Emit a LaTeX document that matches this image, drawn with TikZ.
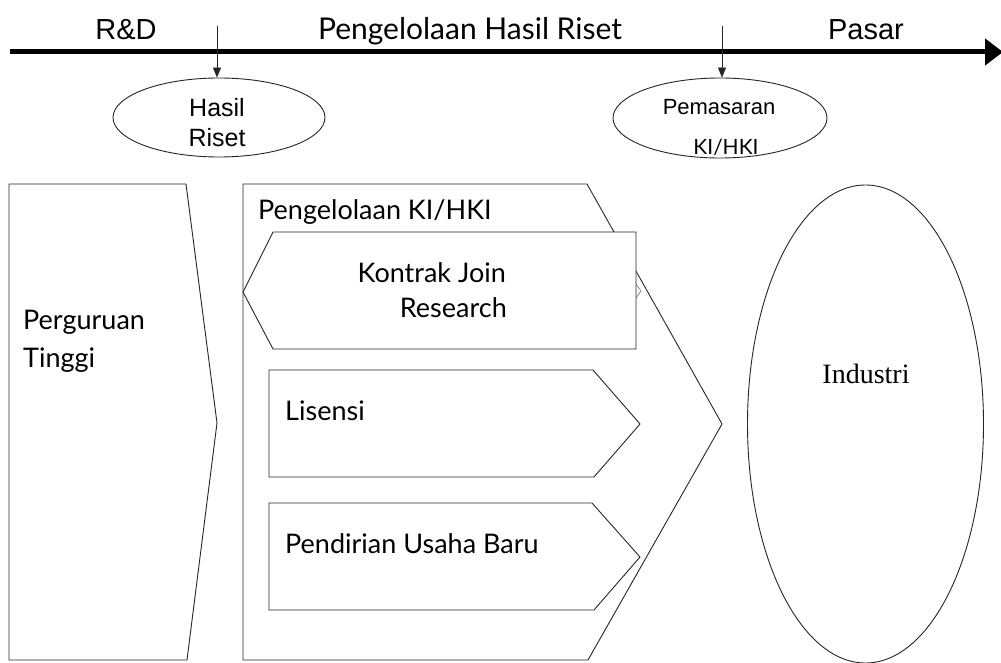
\documentclass[tikz,border=0pt]{standalone}
\usepackage{fontspec}
\setmainfont{Lato}
\newfontfamily\arialf{Liberation Sans}
\newfontfamily\timesf{Liberation Serif}
\usetikzlibrary{arrows.meta,shapes.geometric}
\tikzset{
  shp/.style={draw=black!85, line width=0.9pt, fill=white, line join=miter},
  big/.style={font=\fontsize{30}{34}\selectfont, inner sep=0pt},
  bigarial/.style={font=\arialf\fontsize{29}{33}\selectfont, inner sep=0pt},
  boxtxt/.style={font=\fontsize{27}{31}\selectfont, inner sep=0pt},
  smallarial/.style={font=\arialf\fontsize{25}{29}\selectfont, inner sep=0pt},
  oval/.style={draw=black!85, line width=0.9pt, ellipse, inner sep=0pt},
  downarrow/.style={draw=black!85, line width=0.9pt, -{Triangle[length=10pt,width=8pt]}}
}
\begin{document}
\begin{tikzpicture}[x=1pt,y=-1pt]
\useasboundingbox (0,0) rectangle (1001,663);
\fill[white] (0,0) rectangle (1001,663);

% timeline
\coordinate (tl0) at (10,52);
\coordinate (tl1) at (1003,52);
\draw[line width=5pt, -{Triangle[length=18pt,width=26pt]}] (tl0) -- (tl1);

\node[bigarial, anchor=base] (rd) at (126,40) {R\&D};
\node[big, anchor=base] (phr) at (470,40) {Pengelolaan Hasil Riset};
\node[bigarial, anchor=base] (pasar) at (866,40) {Pasar};

% ellipses
\node[oval, minimum width=212pt, minimum height=79pt] (e1) at (219,117.5) {};
\node[smallarial, anchor=base] (e1a) at (217,117) {Hasil};
\node[smallarial, anchor=base] (e1b) at (217,147) {Riset};

\node[oval, minimum width=214pt, minimum height=80pt] (e2) at (720,118) {};
\node[font=\arialf\fontsize{22}{26}\selectfont, inner sep=0pt, anchor=base] (e2a) at (719,115) {Pemasaran};
\node[font=\fontsize{21}{25}\selectfont, inner sep=0pt, anchor=base] (e2b) at (726,155) {KI/HKI};

\coordinate (a1) at (217,26);
\coordinate (a2) at (722,26);
\draw[downarrow] (a1) -- (a1 |- e1.north);
\draw[downarrow] (a2) -- (a2 |- e2.north);

% Perguruan Tinggi
\draw[shp] (9,184) -- (186,184) -- (217,423) -- (187,660) -- (9,660) -- cycle;
\node[boxtxt, anchor=base west] (pt1) at (23,329) {Perguruan};
\node[boxtxt, anchor=base west] (pt2) at (23,367) {Tinggi};

% Pengelolaan KI/HKI chevron
\draw[shp] (243,184) -- (587,184) -- (722,424) -- (588,660) -- (243,660) -- cycle;
\node[boxtxt, anchor=base west] (pk) at (258,220) {Pengelolaan KI/HKI};

% Kontrak Join Research
\draw[draw=black!45, line width=0.8pt] (636,284) -- (641,291) -- (636,298);
\draw[shp] (243,292) -- (273,232) -- (636,232) -- (636,349) -- (273,349) -- cycle;
\node[boxtxt, anchor=base east] (kj1) at (506,282) {Kontrak Join};
\node[boxtxt, anchor=base east] (kj2) at (507,317) {Research};

% Lisensi
\draw[shp] (269,370) -- (593,370) -- (640,424) -- (594,477) -- (269,477) -- cycle;
\node[boxtxt, anchor=base west] (lis) at (285,420) {Lisensi};

% Pendirian Usaha Baru
\draw[shp] (269,503) -- (592,503) -- (640,557) -- (594,610) -- (269,610) -- cycle;
\node[boxtxt, anchor=base west] (pub) at (285,553) {Pendirian Usaha Baru};

% Industri
\node[oval, minimum width=236pt, minimum height=478pt] (ind) at (865.5,424) {};
\node[font=\timesf\fontsize{28}{32}\selectfont, inner sep=0pt, anchor=base] (indt) at (866,383) {Industri};
\end{tikzpicture}
\end{document}
